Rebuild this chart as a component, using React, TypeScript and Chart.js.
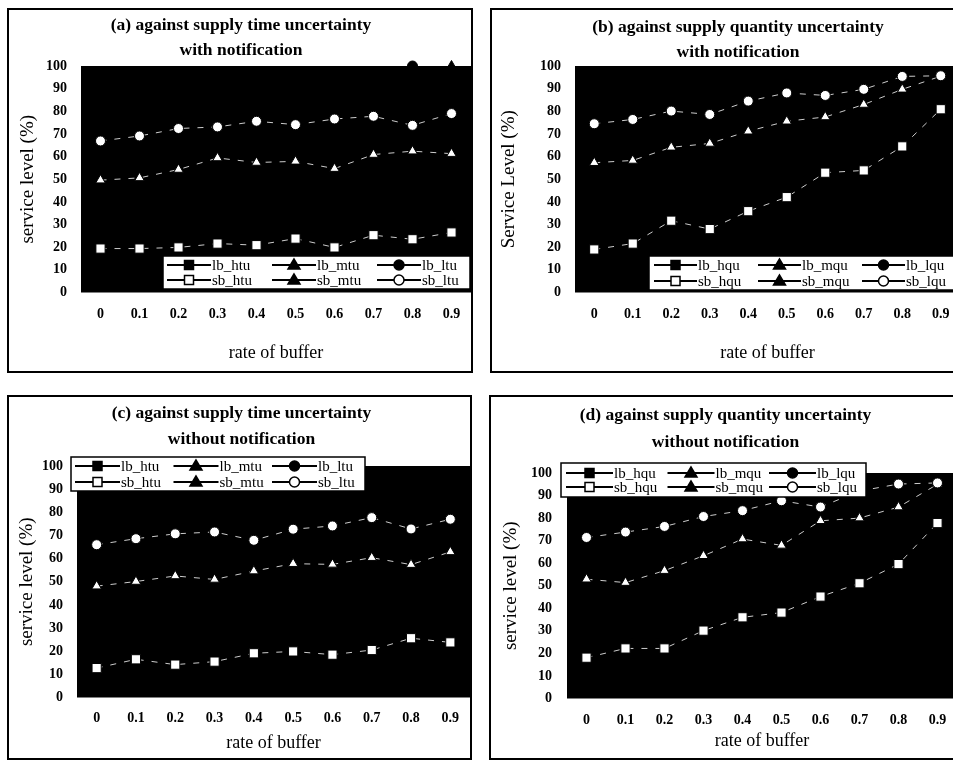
import React, { useEffect, useRef } from "react";
import { Chart, registerables } from "chart.js";

Chart.register(...registerables);

const FONT = '"Liberation Serif", "Times New Roman", serif';

// ---------- data ----------
const bufferRates = ["0", "0.1", "0.2", "0.3", "0.4", "0.5", "0.6", "0.7", "0.8", "0.9"];

const timeNames = ["lb_htu", "lb_mtu", "lb_ltu", "sb_htu", "sb_mtu", "sb_ltu"];
const qtyNames = ["lb_hqu", "lb_mqu", "lb_lqu", "sb_hqu", "sb_mqu", "sb_lqu"];

// (a) supply time uncertainty, with notification
const aLbHtu = [21, 22, 29, 23, 24, 26, 24, 27, 26, 30];
const aLbMtu = [53, 55, 57, 60, 62, 60, 66, 88, 94, 100];
const aLbLtu = [80, 82, 84, 86, 88, 89, 91, 97, 100, 97];
const aSbHtu = [19.4, 19.4, 19.9, 21.6, 20.9, 23.8, 19.9, 25.3, 23.5, 26.5];
const aSbMtu = [49.6, 50.6, 54.3, 59.4, 57.4, 57.9, 54.7, 60.9, 62.4, 61.3];
const aSbLtu = [66.9, 69.1, 72.4, 73.1, 75.6, 74.1, 76.6, 77.8, 73.8, 79.0];

// (b) supply quantity uncertainty, with notification
const bLbHqu = [22, 25, 27, 31, 40, 44, 42, 55, 66, 83];
const bLbMqu = [60, 62, 66, 68, 73, 78, 81, 86, 91, 94];
const bLbLqu = [76, 79, 82, 81, 86, 89, 90, 92, 95, 95];
const bSbHqu = [19.0, 21.6, 31.7, 28.0, 35.9, 42.1, 52.9, 53.9, 64.5, 80.9];
const bSbMqu = [57.3, 58.3, 64.1, 65.8, 71.2, 75.6, 77.5, 83.0, 89.7, 95.5];
const bSbLqu = [74.5, 76.4, 80.1, 78.6, 84.5, 88.1, 87.0, 89.7, 95.4, 95.7];

// (c) supply time uncertainty, without notification
const cLbHtu = [14, 19, 20, 17, 28, 22, 19, 22, 27, 25];
const cLbMtu = [51, 52, 54, 53, 56, 37, 43, 55, 62, 66];
const cLbLtu = [68, 70, 72, 73, 72, 74, 75, 82, 86, 92];
const cSbHtu = [12.7, 16.5, 14.2, 15.5, 19.1, 19.9, 18.5, 20.5, 25.6, 23.8];
const cSbMtu = [48.1, 50.1, 52.5, 51.0, 54.6, 57.8, 57.5, 60.4, 57.4, 62.9];
const cSbLtu = [66.0, 68.6, 70.7, 71.5, 67.9, 72.7, 74.1, 77.7, 72.8, 77.0];

// (d) supply quantity uncertainty, without notification
const dLbHqu = [20, 17, 15, 17, 20, 21, 20, 20, 38, 67];
const dLbMqu = [56, 55, 53, 60, 55, 72, 81, 82, 87, 94];
const dLbLqu = [73, 75, 78, 82, 85, 89, 87, 92, 96, 96];
const dSbHqu = [18.1, 22.2, 22.2, 30.1, 36.0, 38.1, 45.2, 51.1, 59.6, 77.8];
const dSbMqu = [52.9, 51.4, 56.7, 63.3, 70.7, 67.9, 78.8, 80.0, 84.9, 95.0];
const dSbLqu = [71.4, 73.8, 76.3, 80.7, 83.3, 87.7, 84.9, 92.0, 95.1, 95.6];

const yTicksMin = 0;
const yTicksMax = 100;
const yTickStep = 10;

// ---------- layout ----------
type Shape = "rect" | "triangle" | "circle";
type Series = { label: string; data: number[]; shape: Shape; filled: boolean };

const SHAPES: Shape[] = ["rect", "triangle", "circle"];
function makeSeries(names: string[], datas: number[][]): Series[] {
  return names.map((n, i) => ({ label: n, data: datas[i], shape: SHAPES[i % 3], filled: i < 3 }));
}

type PanelSpec = {
  left: number; top: number; w: number; h: number; extraW: number;
  title: string[]; titleCx: number; titleY: number[];
  yTitle: string; yTitlePad: number; yAxisW: number; yTickPad: number;
  plotTop: number; xAxisH: number; xTickPad: number; xTitlePad: number; padR: number;
  legend: { x: number; y: number; w: number; h: number; startX: number; colW: number; lineLen: number; rowGap: number };
  series: Series[];
};

const panels: PanelSpec[] = [
  {
    left: 7, top: 8, w: 466, h: 365, extraW: 8,
    title: ["(a) against supply time uncertainty", "with notification"], titleCx: 232, titleY: [15, 40],
    yTitle: "service level (%)", yTitlePad: 7.6, yAxisW: 72, yTickPad: 14,
    plotTop: 56, xAxisH: 78.5, xTickPad: 13, xTitlePad: 7.2, padR: 8,
    legend: { x: 154, y: 246, w: 307, h: 33, startX: 4, colW: 105, lineLen: 44, rowGap: 15 },
    series: makeSeries(timeNames, [aLbHtu, aLbMtu, aLbLtu, aSbHtu, aSbMtu, aSbLtu]),
  },
  {
    left: 490, top: 8, w: 498, h: 365, extraW: 0,
    title: ["(b) against supply quantity uncertainty", "with notification"], titleCx: 246, titleY: [17, 42],
    yTitle: "Service Level (%)", yTitlePad: 5.6, yAxisW: 83, yTickPad: 14,
    plotTop: 56, xAxisH: 78.5, xTickPad: 13, xTitlePad: 7.2, padR: 26,
    legend: { x: 157, y: 246, w: 311, h: 34, startX: 5, colW: 104, lineLen: 43, rowGap: 16 },
    series: makeSeries(qtyNames, [bLbHqu, bLbMqu, bLbLqu, bSbHqu, bSbMqu, bSbLqu]),
  },
  {
    left: 7, top: 395, w: 465, h: 365, extraW: 8,
    title: ["(c) against supply time uncertainty", "without notification"], titleCx: 232.5, titleY: [16, 42],
    yTitle: "service level (%)", yTitlePad: 6.6, yAxisW: 68, yTickPad: 14,
    plotTop: 69, xAxisH: 60.5, xTickPad: 12, xTitlePad: 4.2, padR: 8,
    legend: { x: 62, y: 60, w: 294, h: 34, startX: 4, colW: 98.5, lineLen: 45, rowGap: 16 },
    series: makeSeries(timeNames, [cLbHtu, cLbMtu, cLbLtu, cSbHtu, cSbMtu, cSbLtu]),
  },
  {
    left: 489, top: 395, w: 500, h: 365, extraW: 0,
    title: ["(d) against supply quantity uncertainty", "without notification"], titleCx: 234.5, titleY: [18, 45],
    yTitle: "service level (%)", yTitlePad: 8.6, yAxisW: 76, yTickPad: 15,
    plotTop: 76, xAxisH: 59.5, xTickPad: 13, xTitlePad: 6.2, padR: 30,
    legend: { x: 70, y: 66, w: 305, h: 34, startX: 5, colW: 101.5, lineLen: 47, rowGap: 14 },
    series: makeSeries(qtyNames, [dLbHqu, dLbMqu, dLbLqu, dSbHqu, dSbMqu, dSbLqu]),
  },
];

function drawMarker(ctx: CanvasRenderingContext2D, shape: Shape, x: number, y: number, filled: boolean) {
  ctx.beginPath();
  if (shape === "rect") {
    ctx.rect(x - 4.5, y - 4.5, 9, 9);
  } else if (shape === "triangle") {
    ctx.moveTo(x, y - 6);
    ctx.lineTo(x - 6, y + 4);
    ctx.lineTo(x + 6, y + 4);
    ctx.closePath();
  } else {
    ctx.arc(x, y, 5, 0, Math.PI * 2);
  }
  ctx.fillStyle = filled || shape === "triangle" ? "#000" : "#fff";
  ctx.fill();
  ctx.strokeStyle = "#000";
  ctx.lineWidth = 1.5;
  ctx.stroke();
}

function buildConfig(p: PanelSpec): any {
  const bgPlugin = {
    id: "plotBg",
    beforeDraw(chart: any) {
      const { ctx, chartArea } = chart;
      ctx.save();
      ctx.fillStyle = "#000";
      ctx.fillRect(chartArea.left, chartArea.top, chartArea.right - chartArea.left, chartArea.bottom - chartArea.top);
      ctx.restore();
    },
  };
  const titlePlugin = {
    id: "panelTitle",
    afterDraw(chart: any) {
      const ctx = chart.ctx;
      ctx.save();
      ctx.fillStyle = "#000";
      ctx.font = `bold 17.5px ${FONT}`;
      ctx.textAlign = "center";
      ctx.textBaseline = "middle";
      p.title.forEach((t, i) => ctx.fillText(t, p.titleCx, p.titleY[i]));
      ctx.restore();
    },
  };
  const legendPlugin = {
    id: "boxLegend",
    afterDatasetsDraw(chart: any) {
      const ctx = chart.ctx as CanvasRenderingContext2D;
      const L = p.legend;
      ctx.save();
      ctx.fillStyle = "#fff";
      ctx.fillRect(L.x, L.y, L.w, L.h);
      ctx.strokeStyle = "#000";
      ctx.lineWidth = 1.5;
      ctx.strokeRect(L.x, L.y, L.w, L.h);
      p.series.forEach((s, i) => {
        const row = Math.floor(i / 3);
        const col = i % 3;
        const ix = L.x + L.startX + col * L.colW;
        const iy = L.y + L.h / 2 + (row === 0 ? -L.rowGap / 2 : L.rowGap / 2);
        ctx.strokeStyle = "#000";
        ctx.lineWidth = 2;
        ctx.beginPath();
        ctx.moveTo(ix, iy);
        ctx.lineTo(ix + L.lineLen, iy);
        ctx.stroke();
        drawMarker(ctx, s.shape, ix + L.lineLen / 2, iy, s.filled);
        ctx.fillStyle = "#000";
        ctx.font = `15px ${FONT}`;
        ctx.textAlign = "left";
        ctx.textBaseline = "middle";
        ctx.fillText(s.label, ix + L.lineLen + 1, iy + 1);
      });
      ctx.restore();
    },
  };

  return {
    type: "line",
    data: {
      labels: bufferRates,
      datasets: p.series.map((s, i) => ({
        label: s.label,
        data: s.data,
        borderColor: s.filled ? "#000" : "rgba(255,255,255,0.8)",
        borderWidth: 1,
        borderDash: s.filled ? [] : [6, 8],
        pointStyle: s.shape,
        pointRadius: s.shape === "rect" ? 6.5 : s.shape === "triangle" ? 5.5 : 5,
        pointBackgroundColor: s.filled ? "#000" : "#fff",
        pointBorderColor: "#000",
        pointBorderWidth: 1,
        tension: 0,
        clip: false,
        order: 5 - i,
      })),
    },
    options: {
      animation: false,
      responsive: false,
      maintainAspectRatio: false,
      layout: { padding: { top: p.plotTop, left: 0, right: p.padR, bottom: 0 } },
      plugins: {
        legend: { display: false },
        title: { display: false },
        tooltip: { enabled: false },
      },
      scales: {
        x: {
          type: "category",
          offset: true,
          grid: { display: false, drawTicks: false },
          border: { display: false },
          ticks: {
            color: "#000",
            font: { family: FONT, size: 14, weight: "bold" },
            padding: p.xTickPad,
            maxRotation: 0,
            autoSkip: false,
          },
          title: {
            display: true,
            text: "rate of buffer",
            color: "#000",
            font: { family: FONT, size: 18 },
            padding: { top: 0, bottom: p.xTitlePad },
          },
          afterFit: (sc: any) => { sc.height = p.xAxisH; },
        },
        y: {
          min: yTicksMin,
          max: yTicksMax,
          grid: { display: false, drawTicks: false },
          border: { display: false },
          ticks: {
            stepSize: yTickStep,
            color: "#000",
            font: { family: FONT, size: 14, weight: "bold" },
            padding: p.yTickPad,
          },
          title: {
            display: true,
            text: p.yTitle,
            color: "#000",
            font: { family: FONT, size: 19 },
            padding: { top: p.yTitlePad, bottom: 0 },
          },
          afterFit: (sc: any) => { sc.width = p.yAxisW; },
        },
      },
    },
    plugins: [bgPlugin, legendPlugin, titlePlugin],
  };
}

function Panel({ p }: { p: PanelSpec }) {
  const ref = useRef<HTMLCanvasElement>(null);
  const cw = p.w - 4 + p.extraW;
  const ch = p.h - 4;
  useEffect(() => {
    if (!ref.current) return;
    const chart = new Chart(ref.current, buildConfig(p));
    return () => chart.destroy();
  }, [p]);
  return (
    <div
      style={{
        position: "absolute",
        left: p.left,
        top: p.top,
        width: p.w,
        height: p.h,
        border: "2px solid #000",
        boxSizing: "border-box",
        overflow: "hidden",
        background: "#fff",
      }}
    >
      <canvas
        ref={ref}
        width={cw}
        height={ch}
        style={{ position: "absolute", left: 0, top: 0, width: cw, height: ch }}
      />
    </div>
  );
}

export default function App() {
  return (
    <div
      style={{
        position: "fixed",
        left: 0,
        top: 0,
        width: 953,
        height: 762,
        overflow: "hidden",
        background: "#fff",
      }}
    >
      {panels.map((p, i) => (
        <Panel key={i} p={p} />
      ))}
    </div>
  );
}
